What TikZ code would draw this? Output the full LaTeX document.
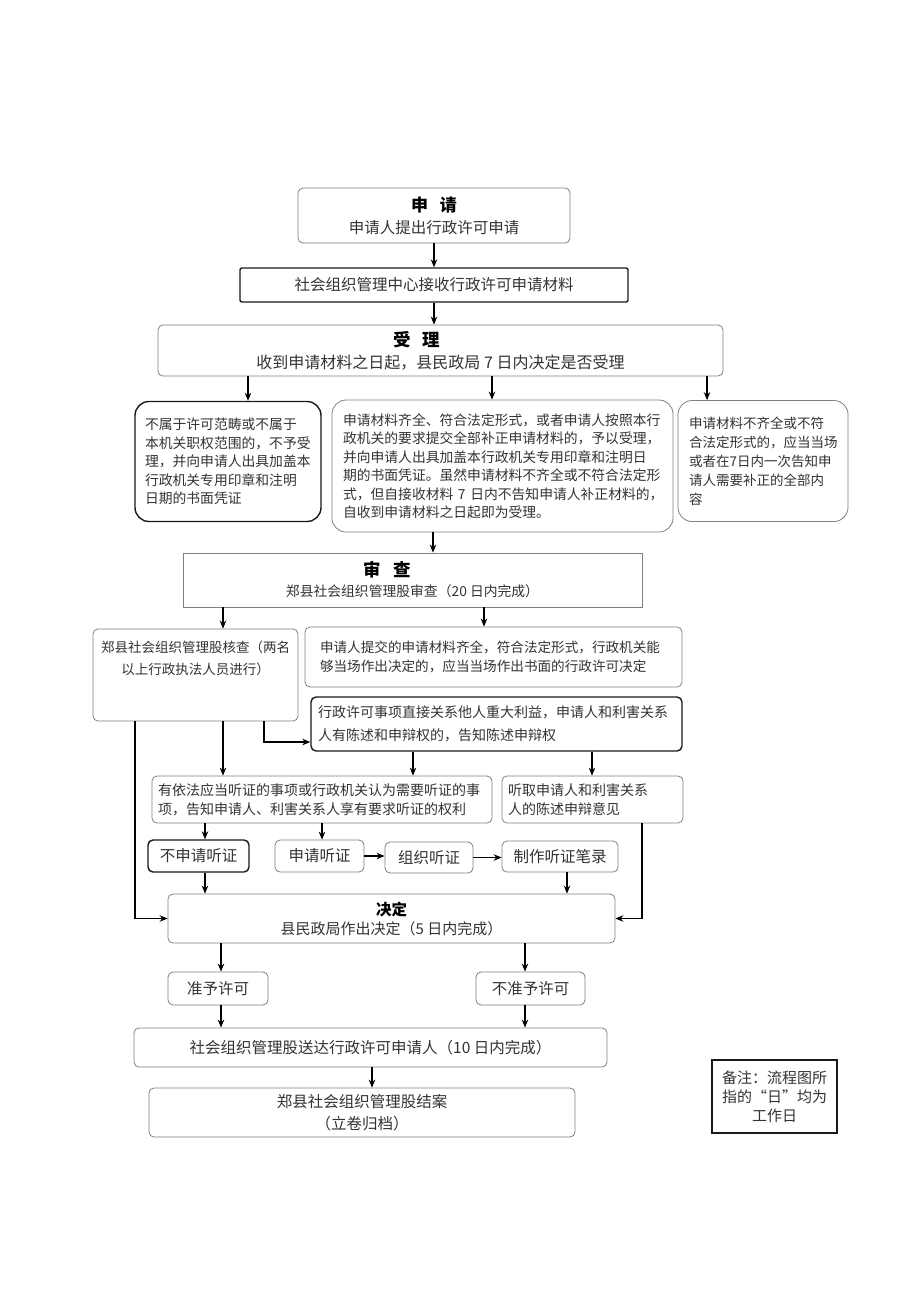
\documentclass[tikz,border=0pt]{standalone}
\usepackage{fontspec}
\setmainfont{Noto Sans CJK SC}
\usetikzlibrary{arrows.meta}

\newcommand{\boxtitle}[2]{{\fontsize{#1}{#1}\selectfont\bfseries\color{black}#2}}

\begin{document}
\begin{tikzpicture}[x=1pt,y=-1pt,>={Stealth[length=8pt,width=6.5pt]}]
		\tikzstyle{box}=[rectangle, rounded corners=5pt, draw=black!50, line width=0.8pt, text=black!80, inner sep=0pt, align=center, font=\fontsize{15.5}{20}\selectfont]
		\tikzstyle{dark box}=[box, draw=black!90, line width=1.4pt]
		\tikzstyle{flow}=[->, line width=1.2pt, black]

		\fill [white] (0,0) rectangle (920,1301);
		\useasboundingbox (0,0) rectangle (920,1301);

		% columns of the connectors
		\coordinate (k1) at (248,0);
		\coordinate (k2) at (492,0);
		\coordinate (k3) at (707,0);
		\coordinate (k4) at (433,0);
		\coordinate (k5) at (223,0);
		\coordinate (k6) at (484,0);
		\coordinate (k7) at (135,0);
		\coordinate (k8) at (264,742);
		\coordinate (k9) at (413,0);
		\coordinate (k10) at (592,0);
		\coordinate (k11) at (205,0);
		\coordinate (k12) at (322,0);
		\coordinate (k13) at (567,0);
		\coordinate (k14) at (642,0);
		\coordinate (k15) at (221,0);
		\coordinate (k16) at (525,0);
		\coordinate (k17) at (372,0);

		\node [box, minimum width=272, minimum height=55, font=\fontsize{15.5}{22}\selectfont] (shenqing) at (434,215.5) {\boxtitle{17}{申\hspace{12pt}请}\\申请人提出行政许可申请};

		\node [dark box, rounded corners=2pt, minimum width=388, minimum height=34] (jieshou) at (434,285) {社会组织管理中心接收行政许可申请材料};

		\node [box, minimum width=565, minimum height=51, font=\fontsize{16}{22}\selectfont] (shouli) at (440.5,350.5) {\boxtitle{17.5}{受\hspace{12pt}理}\hspace*{48pt}\\收到申请材料之日起，县民政局 7 日内决定是否受理};

		\node [dark box, rounded corners=14pt, minimum width=186, minimum height=120, text width=166, align=left, font=\fontsize{13.8}{18.5}\selectfont] (buyu) at (228,461.5) {不属于许可范畴或不属于\\本机关职权范围的，不予受\\理，并向申请人出具加盖本\\行政机关专用印章和注明\\日期的书面凭证};

		\node [box, rounded corners=14pt, minimum width=341, minimum height=132, text width=319, align=left, font=\fontsize{13.8}{18.5}\selectfont] (yuyi) at (502.5,466) {申请材料齐全、符合法定形式，或者申请人按照本行\\政机关的要求提交全部补正申请材料的，予以受理，\\并向申请人出具加盖本行政机关专用印章和注明日\\期的书面凭证。虽然申请材料不齐全或不符合法定形\\式，但自接收材料~7~日内不告知申请人补正材料的，\\自收到申请材料之日起即为受理。};

		\node [box, rounded corners=14pt, minimum width=170, minimum height=121, text width=148, align=left, font=\fontsize{13.5}{19}\selectfont] (buzheng) at (763,461) {申请材料不齐全或不符\\合法定形式的，应当当场\\或者在7日内一次告知申\\请人需要补正的全部内\\容};

		\node [box, rounded corners=0pt, minimum width=459, minimum height=54, font=\fontsize{13.8}{20}\selectfont] (shencha) at (412.5,580) {\boxtitle{17.5}{审\hspace{13pt}查}\hspace*{50pt}\\郑县社会组织管理股审查（20 日内完成）};

		\node [box, minimum width=205, minimum height=92, font=\fontsize{13.5}{22}\selectfont] (hecha) at (195.5,675) {\parbox[c][68pt][t]{193pt}{\centering 郑县社会组织管理股核查（两名\\以上行政执法人员进行）}};

		\node [box, minimum width=377, minimum height=60, text width=347, align=left, font=\fontsize{13.6}{19}\selectfont] (tijiao) at (493.5,657) {申请人提交的申请材料齐全，符合法定形式，行政机关能\\够当场作出决定的，应当当场作出书面的行政许可决定};

		\node [dark box, minimum width=371, minimum height=54, text width=357, align=left, font=\fontsize{14}{23}\selectfont] (zhongda) at (496.5,724) {行政许可事项直接关系他人重大利益，申请人和利害关系\\人有陈述和申辩权的，告知陈述申辩权};

		\node [box, minimum width=340, minimum height=47, text width=328, align=left, font=\fontsize{14}{19}\selectfont] (tingzheng) at (322,799.5) {有依法应当听证的事项或行政机关认为需要听证的事\\项，告知申请人、利害关系人享有要求听证的权利};

		\node [box, minimum width=181, minimum height=47, text width=169, align=left, font=\fontsize{14}{19}\selectfont] (tingqu) at (592.5,799.5) {听取申请人和利害关系\\人的陈述申辩意见};

		\node [dark box, minimum width=101, minimum height=32] (bushenqing) at (198.5,856) {不申请听证};
		\node [box, minimum width=89, minimum height=32] (shenqingtz) at (319.5,856) {申请听证};
		\node [box, minimum width=88, minimum height=31] (zuzhi) at (429,857.5) {组织听证};
		\node [box, minimum width=116, minimum height=31] (zhizuo) at (560,856.5) {制作听证笔录};

		\node [box, minimum width=447, minimum height=49, font=\fontsize{15}{19}\selectfont] (jueding) at (391.5,918.5) {\boxtitle{15.5}{决定}\\县民政局作出决定（5 日内完成）};

		\node [box, minimum width=100, minimum height=33] (zhunyu) at (218,988.5) {准予许可};
		\node [box, minimum width=109, minimum height=33] (buzhunyu) at (530.5,988.5) {不准予许可};

		\node [box, minimum width=473, minimum height=39] (songda) at (370.5,1047.5) {社会组织管理股送达行政许可申请人（10 日内完成）};

		\node [box, minimum width=426, minimum height=49, font=\fontsize{15.5}{22}\selectfont] (jiean) at (362,1112.5) {郑县社会组织管理股结案\\（立卷归档）};

		\node [dark box, rounded corners=0pt, minimum width=125, minimum height=73, font=\fontsize{15}{19}\selectfont] (beizhu) at (774.5,1096.5) {备注：流程图所\\指的“日”均为\\工作日};

		% connectors
		\draw [flow] (shenqing.south) -- (jieshou.north);
		\draw [flow] (jieshou.south) -- (jieshou.south |- shouli.north);
		\draw [flow] (shouli.south -| k1) -- (buyu.north -| k1);
		\draw [flow] (shouli.south -| k2) -- (yuyi.north -| k2);
		\draw [flow] (shouli.south -| k3) -- (buzheng.north -| k3);
		\draw [flow] (yuyi.south -| k4) -- (shencha.north -| k4);
		\draw [flow] (shencha.south -| k5) -- (hecha.north -| k5);
		\draw [flow] (shencha.south -| k6) -- (tijiao.north -| k6);
		\draw [flow] (hecha.south -| k7) -- (k7 |- jueding.west) -- (jueding.west);
		\draw [flow] (hecha.south -| k5) -- (tingzheng.north -| k5);
		\draw [flow] (hecha.south -| k8) -- (k8) -- (k8 -| zhongda.west);
		\draw [flow] (zhongda.south -| k9) -- (tingzheng.north -| k9);
		\draw [flow] (zhongda.south -| k10) -- (tingqu.north -| k10);
		\draw [flow] (tingzheng.south -| k11) -- (bushenqing.north -| k11);
		\draw [flow] (tingzheng.south -| k12) -- (shenqingtz.north -| k12);
		\draw [flow] (shenqingtz.east) -- (shenqingtz.east -| zuzhi.west);
		\draw [flow] (zuzhi.east) -- (zuzhi.east -| zhizuo.west);
		\draw [flow] (bushenqing.south -| k11) -- (jueding.north -| k11);
		\draw [flow] (zhizuo.south -| k13) -- (jueding.north -| k13);
		\draw [flow] (tingqu.south -| k14) -- (k14 |- jueding.east) -- (jueding.east);
		\draw [flow] (jueding.south -| k15) -- (zhunyu.north -| k15);
		\draw [flow] (jueding.south -| k16) -- (buzhunyu.north -| k16);
		\draw [flow] (zhunyu.south -| k15) -- (songda.north -| k15);
		\draw [flow] (buzhunyu.south -| k16) -- (songda.north -| k16);
		\draw [flow] (songda.south -| k17) -- (jiean.north -| k17);
	\end{tikzpicture}
\end{document}
